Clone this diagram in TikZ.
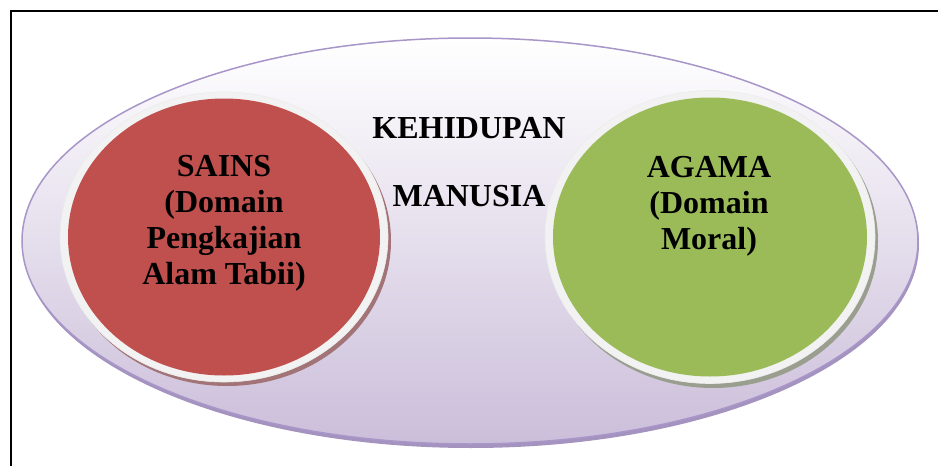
\documentclass[tikz,border=0pt]{standalone}
\usepackage{fontspec}
\setmainfont{Liberation Serif}
\usetikzlibrary{shapes.geometric}
\definecolor{sainsred}{HTML}{C0504D}
\definecolor{agamagreen}{HTML}{9BBB59}
\definecolor{outerline}{HTML}{A996C9}
\definecolor{outerfill}{HTML}{CBBEDA}
\definecolor{ringwhite}{HTML}{F2F2F2}
\definecolor{redshadow}{HTML}{A27477}
\definecolor{greenshadow}{HTML}{9A9E8E}
\begin{document}
\begin{tikzpicture}[x=1pt,y=-1pt,
  lbl/.style={font=\bfseries\fontsize{32}{36}\selectfont, align=center, text=black, inner sep=0pt},
  oval/.style={ellipse, inner sep=0pt}]
\useasboundingbox (0,0) rectangle (938,466);
\fill[white] (0,0) rectangle (938,466);
\draw[line width=2pt] (11,470) -- (11,11) -- (942,11);
% outer ellipse with shadow
\fill[outerline!85!gray] (471,244) ellipse [x radius=448pt, y radius=204pt];
\node[oval, minimum width=896pt, minimum height=406pt, top color=white, middle color=white!78!outerfill, bottom color=outerfill, draw=outerline, line width=1.5pt] (life) at (470,241) {};
% left circle
\fill[redshadow] (227,241) ellipse [x radius=164pt, y radius=145pt];
\node[oval, minimum width=328pt, minimum height=290pt, fill=ringwhite, draw=white!85!gray, line width=0.6pt] (sainsring) at (224,237) {};
\node[oval, minimum width=312pt, minimum height=277pt, fill=sainsred] (sains) at (224,237) {};
% right circle
\fill[greenshadow] (713,241) ellipse [x radius=165pt, y radius=147pt];
\node[oval, minimum width=330pt, minimum height=293pt, fill=ringwhite, draw=white!85!gray, line width=0.6pt] (agamaring) at (710,237) {};
\node[oval, minimum width=314pt, minimum height=279pt, fill=agamagreen] (agama) at (710,237) {};
% texts
\node[lbl] (sainstext) at (224,223.5) {SAINS\\(Domain\\Pengkajian\\Alam Tabii)};
\node[lbl] (agamatext) at (709,206.5) {AGAMA\\(Domain\\Moral)};
\node[lbl, anchor=base] (kehidupan) at (469,138) {KEHIDUPAN};
\node[lbl, anchor=base] (manusia) at (469,206) {MANUSIA};
\end{tikzpicture}
\end{document}
